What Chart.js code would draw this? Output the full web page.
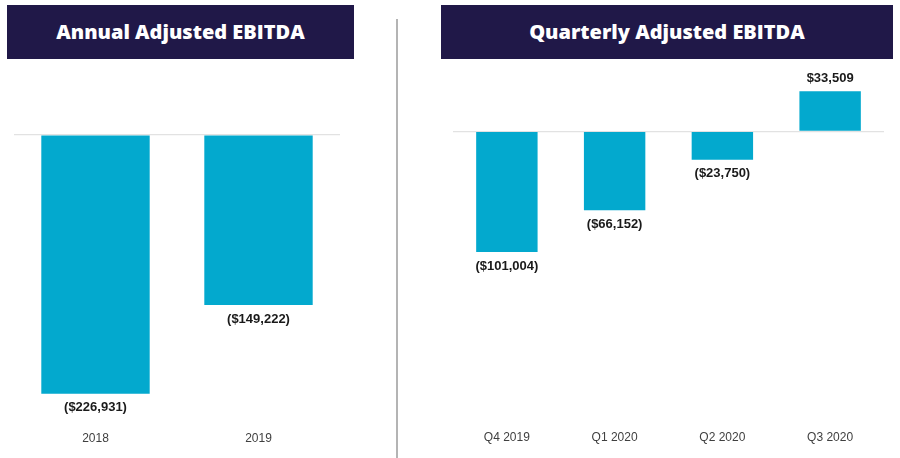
<!DOCTYPE html>
<html>
<head>
<meta charset="utf-8">
<script src="https://cdn.jsdelivr.net/npm/chart.js@4.4.0/dist/chart.umd.min.js"></script>
<style>
    html, body { margin: 0; padding: 0; background: #fff; }
    #page { position: relative; width: 900px; height: 458px; overflow: hidden; }
    .title-box {
        position: absolute; top: 5px; height: 54px;
        background: #201848; color: #fff;
        font-family: "Open Sans", sans-serif; font-weight: 800; font-size: 20px;
        display: flex; align-items: center; justify-content: center;
        box-sizing: border-box; padding-bottom: 2px;
    }
    #divider { position: absolute; left: 396px; top: 19px; width: 2px; height: 439px; background: #b4b4b4; }
    canvas { position: absolute; top: 0; }
</style>
</head>
<body>
<div id="page">
    <div class="title-box" style="left:7px; width:347px;">Annual Adjusted EBITDA</div>
    <div class="title-box" style="left:441px; width:452px;">Quarterly Adjusted EBITDA</div>
    <div id="divider"></div>
    <div style="position:absolute; left:0; top:0; width:396px; height:458px;"><canvas id="annualChart"></canvas></div>
    <div style="position:absolute; left:398px; top:0; width:502px; height:458px;"><canvas id="quarterlyChart"></canvas></div>
</div>
<script>
const annualLabels = ['2018', '2019'];
const annualValues = [-226931, -149222];

const quarterLabels = ['Q4 2019', 'Q1 2020', 'Q2 2020', 'Q3 2020'];
const quarterValues = [-101004, -66152, -23750, 33509];

const barColor = '#03a9ce';

function formatMoney(v) {
    const s = '$' + Math.abs(v).toLocaleString('en-US');
    return v < 0 ? '(' + s + ')' : s;
}

// value text under negative bars, above positive ones
const valueLabels = {
    id: 'valueLabels',
    afterDatasetsDraw(chart) {
        const { ctx } = chart;
        const meta = chart.getDatasetMeta(0);
        const data = chart.data.datasets[0].data;
        ctx.save();
        ctx.font = 'bold 13px "Liberation Sans", sans-serif';
        ctx.fillStyle = '#1a1a1a';
        ctx.textAlign = 'center';
        ctx.textBaseline = 'middle';
        meta.data.forEach((bar, i) => {
            const v = data[i];
            const y = v < 0 ? bar.y + 14 : bar.y - 13;
            ctx.fillText(formatMoney(v), bar.x, y);
        });
        ctx.restore();
    }
};

function makeChart(id, labels, values, opts) {
    return new Chart(document.getElementById(id), {
        type: 'bar',
        data: {
            labels: labels,
            datasets: [{
                data: values,
                backgroundColor: barColor,
                borderWidth: 0,
                barPercentage: opts.barPct,
                categoryPercentage: 1
            }]
        },
        options: {
            responsive: true,
            maintainAspectRatio: false,
            animation: false,
            layout: { padding: opts.padding },
            plugins: { legend: { display: false }, tooltip: { enabled: false } },
            scales: {
                x: {
                    grid: { display: false, drawTicks: false },
                    border: { display: false },
                    ticks: {
                        color: '#404040',
                        padding: opts.tickPad,
                        font: { family: '"Liberation Sans", sans-serif', size: 12 }
                    },
                    afterFit(scale) { scale.height = opts.axisHeight; }
                },
                y: {
                    min: opts.min,
                    max: opts.max,
                    border: { display: false },
                    grid: {
                        drawTicks: false,
                        lineWidth: 1.2,
                        color: c => c.tick && c.tick.value === 0 ? '#e2e2e2' : 'transparent'
                    },
                    ticks: { display: false },
                    afterBuildTicks(scale) { scale.ticks = [{ value: 0 }]; }
                }
            }
        },
        plugins: [valueLabels]
    });
}

makeChart('annualChart', annualLabels, annualValues, {
    min: -250000, max: 30000, barPct: 0.665,
    padding: { top: 100.8, left: 14, right: 56, bottom: 0 },
    axisHeight: 38, tickPad: 11
});

makeChart('quarterlyChart', quarterLabels, quarterValues, {
    min: -240000, max: 45000, barPct: 0.57,
    padding: { top: 77.5, left: 55, right: 16, bottom: 0 },
    axisHeight: 39.9, tickPad: 12
});
</script>
</body>
</html>
